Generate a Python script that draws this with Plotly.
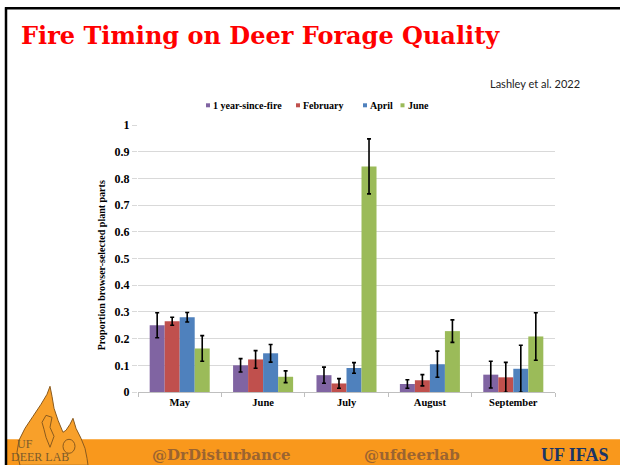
import plotly.graph_objects as go

# ---- data ----
months = ["May", "June", "July", "August", "September"]
series_names = ["1 year-since-fire", "February", "April", "June"]
v_1yr = [0.250, 0.100, 0.063, 0.030, 0.065]
e_1yr = [0.047, 0.025, 0.030, 0.016, 0.050]
v_feb = [0.265, 0.122, 0.032, 0.044, 0.055]
e_feb = [0.015, 0.033, 0.018, 0.021, 0.056]
v_apr = [0.280, 0.145, 0.090, 0.104, 0.087]
e_apr = [0.018, 0.033, 0.020, 0.049, 0.088]
v_jun = [0.163, 0.057, 0.845, 0.228, 0.208]
e_jun = [0.048, 0.022, 0.103, 0.042, 0.089]
colors = ["#8064A2", "#C0504D", "#4F81BD", "#9BBB59"]
y_ticks = [0, 0.1, 0.2, 0.3, 0.4, 0.5, 0.6, 0.7, 0.8, 0.9, 1]
y_tick_labels = ["0", "0.1", "0.2", "0.3", "0.4", "0.5", "0.6", "0.7", "0.8", "0.9", "1"]
y_title = "Proportion browser-selected plant parts"

W, H = 620, 465
L, R, T, B = 138, 555, 124.7, 391.7


def px(x):
    return (x - L) / (R - L)


def py(y):
    return (B - y) / (B - T)


SERIF = "Liberation Serif, Times New Roman, serif"
WIDE_SERIF = "DejaVu Serif, Georgia, serif"

fig = go.Figure()
for name, vals, errs, col in zip(series_names, [v_1yr, v_feb, v_apr, v_jun],
                                 [e_1yr, e_feb, e_apr, e_jun], colors):
    fig.add_trace(go.Bar(
        x=months, y=vals, name=name, marker=dict(color=col, line=dict(width=0)),
        error_y=dict(type="data", array=errs, visible=True, color="black",
                     thickness=1.6, width=2),
        showlegend=False,
    ))

shapes = []
annotations = []

# custom compact legend (small squares + bold serif labels)
legend_sq_x = [206, 296, 363, 400.5]
for name, col, sx in zip(series_names, colors, legend_sq_x):
    shapes.append(dict(type="rect", xref="paper", yref="paper", x0=px(sx), x1=px(sx + 4),
                       y0=py(107), y1=py(103), fillcolor=col, line=dict(width=0)))
    annotations.append(dict(text=name, x=px(sx + 5), y=py(105.5), xref="paper", yref="paper",
                            xanchor="left", yanchor="middle", showarrow=False,
                            font=dict(family=SERIF, size=10, color="black", weight="bold")))

# slide border lines
shapes.append(dict(type="line", xref="paper", yref="paper", x0=px(5), x1=px(620),
                   y0=py(8), y1=py(8), line=dict(color="black", width=2.5), layer="above"))
shapes.append(dict(type="line", xref="paper", yref="paper", x0=px(6), x1=px(6),
                   y0=py(7), y1=py(465), line=dict(color="black", width=2.5), layer="above"))
# footer band
shapes.append(dict(type="rect", xref="paper", yref="paper", x0=px(7), x1=px(620),
                   y0=py(439), y1=py(466), fillcolor="#F9981C", line=dict(width=0), layer="below"))


def path(points):
    return "M " + " L ".join(f"{px(a):.4f},{py(b):.4f}" for a, b in points) + " Z"


# flame logo (decorative)
flame = [(20, 465), (17, 452), (19, 440), (25, 428), (33, 416), (41, 404), (47, 394), (50, 386),
         (52, 396), (54, 408), (58, 420), (63, 432), (66, 430), (70, 424), (73, 418),
         (76, 428), (81, 438), (85, 448), (87, 458), (88, 465)]
shapes.append(dict(type="path", xref="paper", yref="paper", path=path(flame),
                   fillcolor="#F8A02A", line=dict(color="#8A5A1E", width=1), layer="above"))
# simple emblem scribbles inside the flame
shapes.append(dict(type="circle", xref="paper", yref="paper", x0=px(63), x1=px(75),
                   y0=py(453), y1=py(439), fillcolor="rgba(0,0,0,0)",
                   line=dict(color="#8A5A1E", width=1), layer="above"))
shapes.append(dict(type="path", xref="paper", yref="paper",
                   path=path([(42, 422), (46, 415), (52, 417), (50, 427), (54, 436),
                              (50, 447), (46, 437), (44, 429)]),
                   fillcolor="rgba(0,0,0,0)", line=dict(color="#8A5A1E", width=1), layer="above"))

FOOT = "#9C6430"
annotations += [
    dict(text="<b>Fire Timing on Deer Forage Quality</b>", x=px(19), y=py(35), xref="paper",
         yref="paper", xanchor="left", yanchor="middle", showarrow=False,
         font=dict(family=WIDE_SERIF, size=24, color="#FF0000")),
    dict(text="Lashley et al. 2022", x=px(582), y=py(83), xref="paper", yref="paper",
         xanchor="right", yanchor="middle", showarrow=False,
         font=dict(family="Lato, Open Sans, sans-serif", size=11, color="#222222")),
    dict(text=y_title, x=px(101), y=py(265), xref="paper", yref="paper", textangle=-90,
         xanchor="center", yanchor="middle", showarrow=False,
         font=dict(family=SERIF, size=10, color="black", weight="bold")),
    dict(text="<b>@DrDisturbance</b>", x=px(221), y=py(455), xref="paper", yref="paper",
         xanchor="center", yanchor="middle", showarrow=False,
         font=dict(family=WIDE_SERIF, size=15, color=FOOT)),
    dict(text="<b>@ufdeerlab</b>", x=px(412), y=py(455), xref="paper", yref="paper",
         xanchor="center", yanchor="middle", showarrow=False,
         font=dict(family=WIDE_SERIF, size=15, color=FOOT)),
    dict(text="<b>UF IFAS</b>", x=px(575), y=py(455), xref="paper", yref="paper",
         xanchor="center", yanchor="middle", showarrow=False,
         font=dict(family=SERIF, size=18, color="#1B3566")),
    dict(text="UF", x=px(15), y=py(444), xref="paper", yref="paper",
         xanchor="left", yanchor="middle", showarrow=False,
         font=dict(family=SERIF, size=12, color="#7A5A2A")),
    dict(text="DEER LAB", x=px(9), y=py(457), xref="paper", yref="paper",
         xanchor="left", yanchor="middle", showarrow=False,
         font=dict(family=SERIF, size=12, color="#7A5A2A")),
]

fig.update_layout(
    width=W, height=H,
    margin=dict(l=L, r=W - R, t=T, b=H - B, pad=0),
    paper_bgcolor="white", plot_bgcolor="white",
    barmode="group", bargap=0.28, bargroupgap=0,
    showlegend=False,
    xaxis=dict(showgrid=False, showline=True, linecolor="#BFBFBF", linewidth=1,
               ticks="outside", ticklen=4, tickcolor="#BFBFBF", tickson="boundaries",
               tickfont=dict(family=SERIF, size=10.5, color="black", weight="bold"),
               fixedrange=True),
    yaxis=dict(range=[0, 1], tickvals=y_ticks, ticktext=y_tick_labels,
               showgrid=True, gridcolor="#D9D9D9", gridwidth=1, zeroline=False,
               showline=False, ticks="outside", ticklen=5, tickcolor="#D9D9D9",
               tickfont=dict(family=SERIF, size=12, color="black", weight="bold"),
               fixedrange=True),
    shapes=shapes, annotations=annotations,
)

fig.write_html("out.html", config={"displayModeBar": False},
               post_script="document.body.style.margin='0';document.body.style.overflow='hidden';")
